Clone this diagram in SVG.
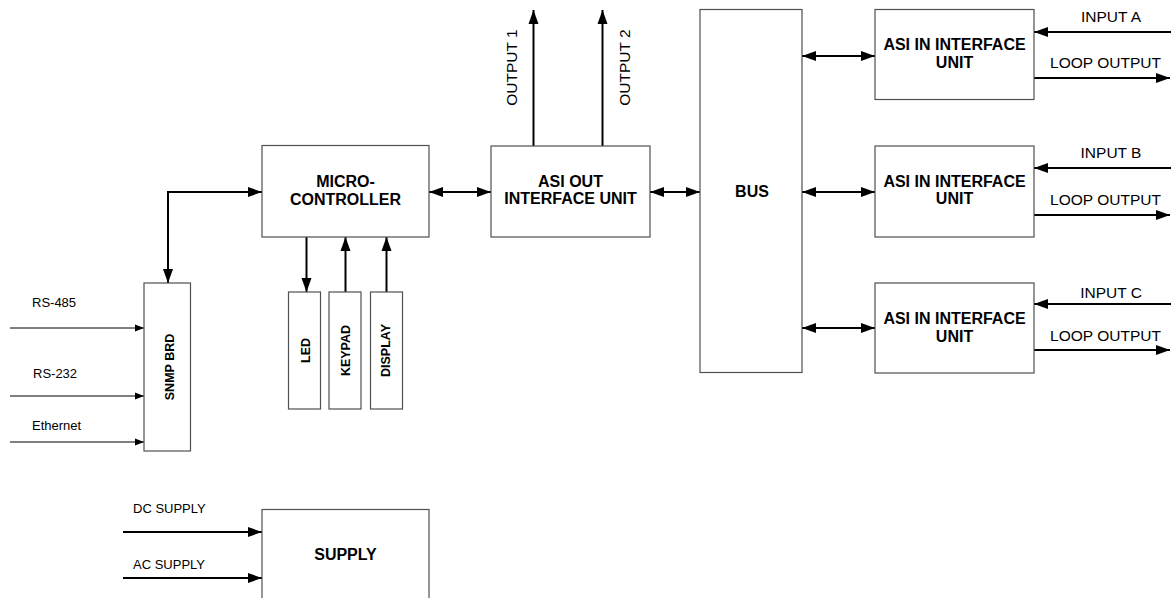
<svg xmlns="http://www.w3.org/2000/svg" width="1171" height="598" viewBox="0 0 1171 598">
<style>
.box{fill:#fff;stroke:#505050;stroke-width:1.2}
.bt{font-family:"Liberation Sans",Arial,sans-serif;font-weight:bold;font-size:16px;fill:#000;text-anchor:middle}
.vt{font-family:"Liberation Sans",Arial,sans-serif;font-weight:bold;font-size:12.5px;fill:#000;text-anchor:middle}
.lb{font-family:"Liberation Sans",Arial,sans-serif;font-size:15.5px;fill:#000}
.sl{font-family:"Liberation Sans",Arial,sans-serif;font-size:13px;fill:#000}
.w{fill:none;stroke:#000;stroke-width:2}
.t{fill:none;stroke:#000;stroke-width:1}
.a{marker-end:url(#ah)}
.ab{marker-start:url(#ah);marker-end:url(#ah)}
.s{marker-end:url(#as)}
</style>
<defs>
<marker id="ah" markerUnits="userSpaceOnUse" markerWidth="15" markerHeight="11" refX="14" refY="5" orient="auto-start-reverse" viewBox="0 0 15 10">
<path d="M0,0 L14,5 L0,10 z" fill="#000"/>
</marker>
<marker id="as" markerUnits="userSpaceOnUse" markerWidth="10" markerHeight="8" refX="9" refY="3.5" orient="auto" viewBox="0 0 10 7">
<path d="M0,0 L9,3.5 L0,7 z" fill="#000"/>
</marker>
</defs>
<g id="connectors">
<line class="t s" x1="10" y1="328" x2="144" y2="328"/>
<line class="t s" x1="10" y1="396" x2="144" y2="396"/>
<line class="t s" x1="10" y1="442" x2="144" y2="442"/>
<path class="w ab" d="M262,192 H168 V283"/>
<line class="w ab" x1="429" y1="192" x2="491" y2="192"/>
<line class="w a" x1="306.5" y1="237" x2="306.5" y2="292"/>
<line class="w a" x1="345.5" y1="292" x2="345.5" y2="237"/>
<line class="w a" x1="386.5" y1="292" x2="386.5" y2="237"/>
<line class="w a" x1="533.5" y1="146" x2="533.5" y2="10"/>
<line class="w a" x1="602.5" y1="146" x2="602.5" y2="10"/>
<line class="w ab" x1="650" y1="192" x2="700" y2="192"/>
<line class="w ab" x1="802" y1="56" x2="875" y2="56"/>
<line class="w ab" x1="802" y1="192" x2="875" y2="192"/>
<line class="w ab" x1="802" y1="328" x2="875" y2="328"/>
<line class="w a" x1="1171" y1="32" x2="1034" y2="32"/>
<line class="w a" x1="1034" y1="78" x2="1170" y2="78"/>
<line class="w a" x1="1171" y1="168" x2="1034" y2="168"/>
<line class="w a" x1="1034" y1="215" x2="1170" y2="215"/>
<line class="w a" x1="1171" y1="304" x2="1034" y2="304"/>
<line class="w a" x1="1034" y1="350" x2="1170" y2="350"/>
<line class="w a" x1="123" y1="532" x2="262" y2="532"/>
<line class="w a" x1="123" y1="578" x2="262" y2="578"/>
</g>
<g id="labels">
<text class="sl" x="32" y="307">RS-485</text>
<text class="sl" x="33" y="378">RS-232</text>
<text class="sl" x="32" y="430">Ethernet</text>
<text class="sl" x="133" y="513">DC SUPPLY</text>
<text class="sl" x="133" y="569">AC SUPPLY</text>
<text class="lb" transform="translate(516.5,67.5) rotate(-90)" text-anchor="middle">OUTPUT 1</text>
<text class="lb" transform="translate(629.5,67.5) rotate(-90)" text-anchor="middle">OUTPUT 2</text>
<text class="lb" x="1111" y="22" text-anchor="middle">INPUT A</text>
<text class="lb" x="1105.5" y="68" text-anchor="middle">LOOP OUTPUT</text>
<text class="lb" x="1111" y="158" text-anchor="middle">INPUT B</text>
<text class="lb" x="1105.5" y="205" text-anchor="middle">LOOP OUTPUT</text>
<text class="lb" x="1111" y="298" text-anchor="middle">INPUT C</text>
<text class="lb" x="1105.5" y="341" text-anchor="middle">LOOP OUTPUT</text>
</g>
<g id="snmp">
<rect class="box" x="144" y="283" width="46.5" height="168"/>
<text class="vt" transform="translate(173.5,367) rotate(-90)">SNMP BRD</text>
</g>
<g id="micro">
<rect class="box" x="262" y="145.5" width="167" height="91.5"/>
<text class="bt" x="345.5" y="187">MICRO-</text>
<text class="bt" x="345.5" y="205">CONTROLLER</text>
</g>
<g id="led">
<rect class="box" x="288.5" y="292" width="32" height="117"/>
<text class="vt" transform="translate(310,350.5) rotate(-90)">LED</text>
</g>
<g id="keypad">
<rect class="box" x="329" y="292" width="32" height="117"/>
<text class="vt" transform="translate(349.5,350.5) rotate(-90)">KEYPAD</text>
</g>
<g id="display">
<rect class="box" x="370.5" y="292" width="32" height="117"/>
<text class="vt" transform="translate(390,350.5) rotate(-90)">DISPLAY</text>
</g>
<g id="asi-out">
<rect class="box" x="491" y="146" width="159" height="91"/>
<text class="bt" x="570.5" y="187">ASI OUT</text>
<text class="bt" x="570.5" y="204">INTERFACE UNIT</text>
</g>
<g id="bus">
<rect class="box" x="700" y="9.5" width="102" height="363"/>
<text class="bt" x="752" y="197">BUS</text>
</g>
<g id="asi-in-a">
<rect class="box" x="875" y="9.5" width="159" height="90"/>
<text class="bt" x="954.5" y="50">ASI IN INTERFACE</text>
<text class="bt" x="954.5" y="68">UNIT</text>
</g>
<g id="asi-in-b">
<rect class="box" x="875" y="146" width="159" height="91"/>
<text class="bt" x="954.5" y="187">ASI IN INTERFACE</text>
<text class="bt" x="954.5" y="204">UNIT</text>
</g>
<g id="asi-in-c">
<rect class="box" x="875" y="283" width="159" height="90"/>
<text class="bt" x="954.5" y="323.5">ASI IN INTERFACE</text>
<text class="bt" x="954.5" y="341.5">UNIT</text>
</g>
<g id="supply">
<rect class="box" x="262" y="509.5" width="167" height="100"/>
<text class="bt" x="345.5" y="560">SUPPLY</text>
</g>
</svg>
